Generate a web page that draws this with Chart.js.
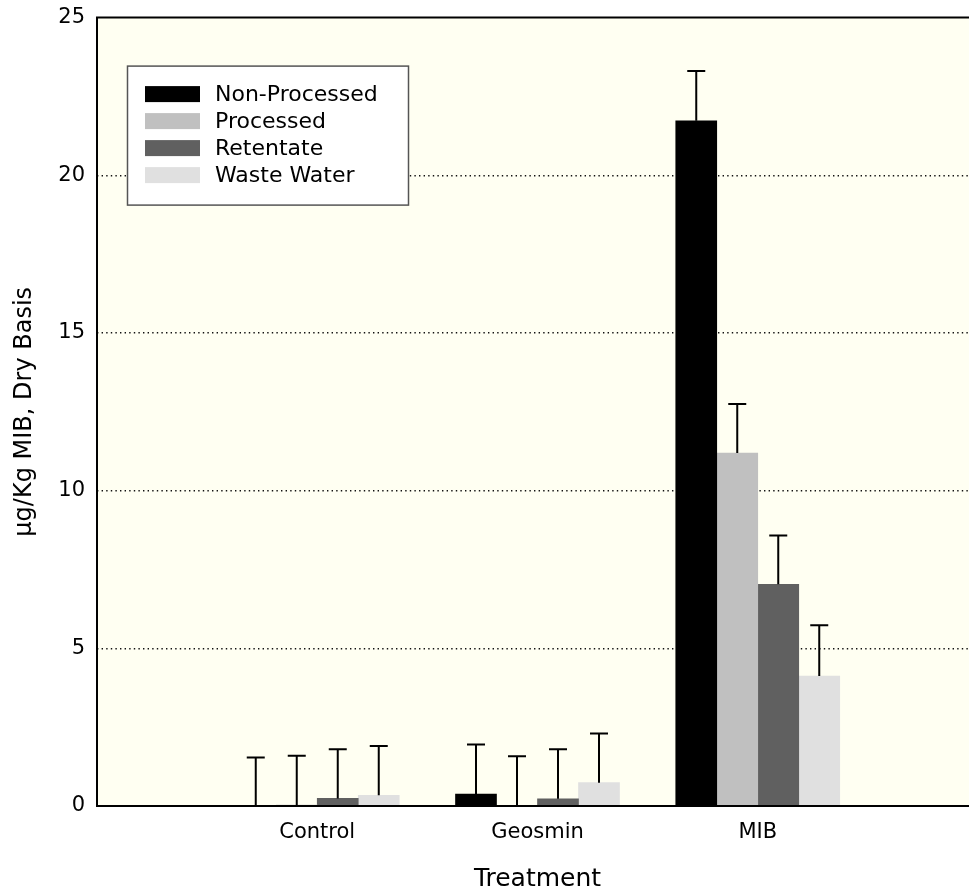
<!DOCTYPE html>
<html>
<head>
<meta charset="utf-8">
<script src="https://cdn.jsdelivr.net/npm/chart.js@4.4.1/dist/chart.umd.min.js"></script>
<style>
  html, body { margin: 0; padding: 0; overflow: hidden; background: #fff; }
  #wrap { position: absolute; left: 0; top: -7px; width: 990px; height: 901px; }
</style>
</head>
<body>
<div id="wrap"><canvas id="chart"></canvas></div>
<script>
// ── Data ──────────────────────────────────────────────────────────────
const categories = ['Control', 'Geosmin', 'MIB'];
const categoryPos = [1, 2, 3];
const seriesNames = ['Non-Processed', 'Processed', 'Retentate', 'Waste Water'];
const seriesColors = ['#000000', '#c0c0c0', '#606060', '#e0e0e0'];

const nonProcessed = [0, 0.38, 21.73];
const processed    = [0.03, 0, 11.19];
const retentate    = [0.24, 0.23, 7.03];
const wasteWater   = [0.34, 0.74, 4.12];

const errNonProcessed = [1.54, 1.57, 1.58];
const errProcessed    = [1.56, 1.58, 1.56];
const errRetentate    = [1.56, 1.57, 1.55];
const errWasteWater   = [1.56, 1.56, 1.61];

const yTicks = [0, 5, 10, 15, 20, 25];

const seriesValues = [nonProcessed, processed, retentate, wasteWater];
const seriesErrors = [errNonProcessed, errProcessed, errRetentate, errWasteWater];

const FONT = 'DejaVu Sans';

// ── Plugins: background, frame, error bars, legend box ────────────────
const plotBackground = {
  id: 'plotBackground',
  beforeDraw(chart) {
    const { ctx, chartArea: a } = chart;
    ctx.save();
    ctx.fillStyle = '#fffff2';
    ctx.fillRect(a.left, a.top, a.right - a.left, a.bottom - a.top);
    ctx.restore();
  }
};

const errorBars = {
  id: 'errorBars',
  afterDatasetsDraw(chart) {
    const { ctx } = chart;
    const y = chart.scales.y;
    ctx.save();
    ctx.strokeStyle = '#000';
    ctx.lineWidth = 2;
    chart.data.datasets.forEach((ds, di) => {
      const meta = chart.getDatasetMeta(di);
      meta.data.forEach((bar, i) => {
        const top = y.getPixelForValue(ds.data[i].y + ds.errors[i]);
        ctx.beginPath();
        ctx.moveTo(bar.x, bar.y);
        ctx.lineTo(bar.x, top);
        ctx.moveTo(bar.x - 9, top);
        ctx.lineTo(bar.x + 9, top);
        ctx.stroke();
      });
    });
    ctx.restore();
  }
};

const frame = {
  id: 'frame',
  afterDatasetsDraw(chart) {
    const { ctx, chartArea: a } = chart;
    ctx.save();
    ctx.strokeStyle = '#000';
    ctx.lineWidth = 2;
    ctx.beginPath();
    ctx.moveTo(a.right + 20, a.top);
    ctx.lineTo(a.left, a.top);
    ctx.lineTo(a.left, a.bottom);
    ctx.lineTo(a.right + 20, a.bottom);
    ctx.stroke();
    ctx.restore();
  }
};

const legendBox = {
  id: 'legendBox',
  afterDraw(chart) {
    const { ctx, chartArea: a } = chart;
    const bx = a.left + 30.5, by = a.top + 48.5, bw = 281, bh = 139;
    ctx.save();
    ctx.fillStyle = '#fff';
    ctx.fillRect(bx, by, bw, bh);
    ctx.strokeStyle = '#555';
    ctx.lineWidth = 1.5;
    ctx.strokeRect(bx, by, bw, bh);
    ctx.font = `22px "${FONT}"`;
    ctx.textBaseline = 'middle';
    chart.data.datasets.forEach((ds, i) => {
      const cy = by + 28 + i * 27;
      ctx.fillStyle = ds.backgroundColor;
      ctx.fillRect(bx + 17.5, cy - 8, 55, 16);
      ctx.fillStyle = '#000';
      ctx.fillText(ds.label, bx + 87.5, cy + 1);
    });
    ctx.restore();
  }
};

// ── Chart ─────────────────────────────────────────────────────────────
const datasets = seriesNames.map((name, s) => ({
  label: name,
  data: categoryPos.map((x, i) => ({ x, y: seriesValues[s][i] })),
  errors: seriesErrors[s],
  backgroundColor: seriesColors[s],
  borderWidth: 0,
  barThickness: 41,
}));

new Chart(document.getElementById('chart'), {
  type: 'bar',
  data: { datasets },
  plugins: [plotBackground, errorBars, frame, legendBox],
  options: {
    responsive: true,
    maintainAspectRatio: false,
    animation: false,
    layout: { padding: { top: 9, right: 12, left: 0, bottom: 0 } },
    plugins: { legend: { display: false }, tooltip: { enabled: false } },
    scales: {
      x: {
        type: 'linear',
        min: 0,
        max: 4,
        offset: false,
        afterBuildTicks(scale) { scale.ticks = categoryPos.map(v => ({ value: v })); },
        afterFit(scale) { scale.height = 88; },
        grid: { display: false },
        border: { display: false },
        ticks: {
          padding: 6,
          color: '#000',
          font: { family: FONT, size: 21 },
          callback: (v) => categories[categoryPos.indexOf(v)] ?? '',
        },
        title: {
          display: true,
          text: 'Treatment',
          color: '#000',
          font: { family: FONT, size: 25 },
          padding: { top: 0, bottom: 0 },
        },
      },
      y: {
        min: 0,
        max: 25,
        afterBuildTicks(scale) { scale.ticks = yTicks.map(v => ({ value: v })); },
        afterFit(scale) { scale.width = 97; },
        grid: {
          drawTicks: false,
          color: (c) => (c.tick.value === 0 || c.tick.value === 25) ? 'rgba(0,0,0,0)' : '#111',
          lineWidth: 1.4,
        },
        border: { display: false, dash: [1.4, 3.2] },
        ticks: {
          padding: 12,
          color: '#000',
          font: { family: FONT, size: 21 },
        },
        title: {
          display: true,
          text: 'µg/Kg MIB, Dry Basis',
          color: '#000',
          font: { family: FONT, size: 24 },
          padding: { top: 10, bottom: 0 },
        },
      },
    },
  },
});
</script>
</body>
</html>
